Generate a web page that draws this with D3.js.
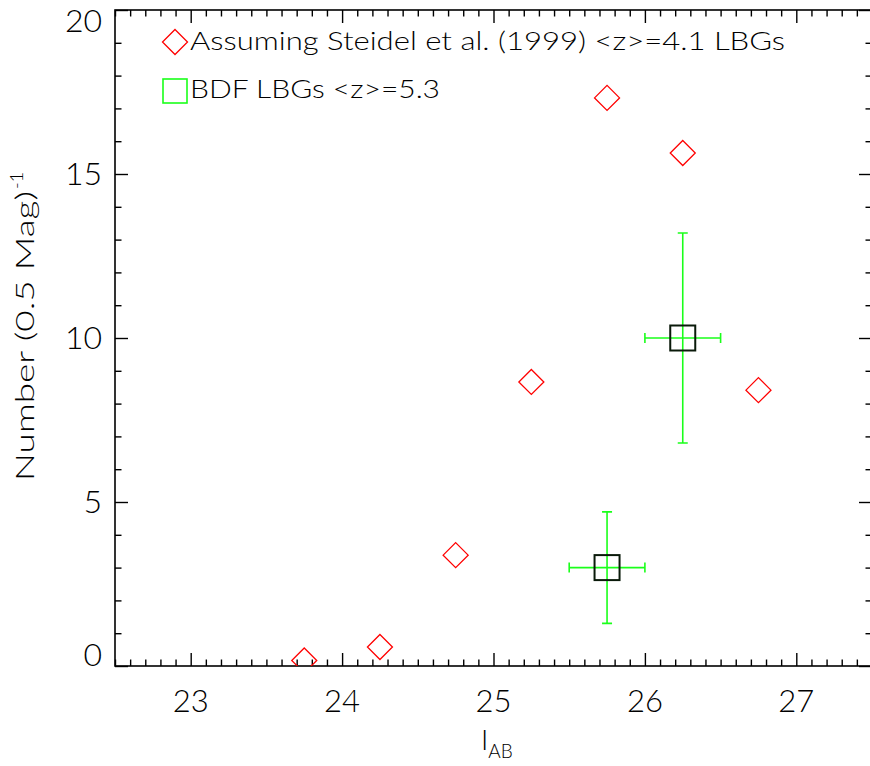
<!DOCTYPE html>
<html>
<head>
<meta charset="utf-8">
<script src="https://cdn.jsdelivr.net/npm/d3@7"></script>
<style>
  html, body { margin: 0; padding: 0; background: #fff; }
  svg { display: block; }
  text { font-family: "Lato", "DejaVu Sans", sans-serif; font-weight: 300; fill: #000; }
</style>
</head>
<body>
<svg id="chart" width="870" height="766"></svg>
<script>
// ---- data ----
const steidelMag = [23.75, 24.25, 24.75, 25.25, 25.75, 26.25, 26.75];
const steidelNum = [0.17, 0.58, 3.38, 8.66, 17.32, 15.64, 8.41];

const bdfMag = [25.75, 26.25];
const bdfNum = [3.0, 10.0];
const bdfYLow = [1.3, 6.8];
const bdfYHigh = [4.7, 13.2];
const bdfXLow = [25.5, 26.0];
const bdfXHigh = [26.0, 26.5];

const xTickLabels = [23, 24, 25, 26, 27];
const yTickLabels = [0, 5, 10, 15, 20];
const xDomain = [22.5, 27.5];
const yDomain = [0, 20];

const legendLabels = ["Assuming Steidel et al. (1999) <z>=4.1 LBGs", "BDF LBGs <z>=5.3"];

// ---- layout ----
const L = 115, R = 872, T = 10, B = 666;
const svg = d3.select("#chart");
const x = d3.scaleLinear().domain(xDomain).range([L, R]);
const y = d3.scaleLinear().domain(yDomain).range([B, T]);

const RED = "#ff0000", GREEN = "#1aff1a";
const majorLen = 13, minorLen = 6.5;

const xMinor = d3.range(22.5, 27.51, 0.1).map(v => +v.toFixed(2)).filter(v => !xTickLabels.includes(v));
const yMinor = d3.range(0, 20.01, 1).filter(v => !yTickLabels.includes(v));

function styleAxis(g) {
  g.select(".domain").remove();
  g.selectAll(".tick line").attr("stroke", "#000").attr("stroke-width", 1.4);
}

svg.append("g").attr("transform", `translate(0,${B})`)
  .call(d3.axisBottom(x).tickValues(xTickLabels).tickSize(-majorLen).tickFormat(""))
  .call(styleAxis);
svg.append("g").attr("transform", `translate(0,${B})`)
  .call(d3.axisBottom(x).tickValues(xMinor).tickSize(-minorLen).tickFormat(""))
  .call(styleAxis);
svg.append("g").attr("transform", `translate(0,${T})`)
  .call(d3.axisTop(x).tickValues(xTickLabels).tickSize(-majorLen).tickFormat(""))
  .call(styleAxis);
svg.append("g").attr("transform", `translate(0,${T})`)
  .call(d3.axisTop(x).tickValues(xMinor).tickSize(-minorLen).tickFormat(""))
  .call(styleAxis);
svg.append("g").attr("transform", `translate(${L},0)`)
  .call(d3.axisLeft(y).tickValues(yTickLabels).tickSize(-majorLen).tickFormat(""))
  .call(styleAxis);
svg.append("g").attr("transform", `translate(${L},0)`)
  .call(d3.axisLeft(y).tickValues(yMinor).tickSize(-minorLen).tickFormat(""))
  .call(styleAxis);
svg.append("g").attr("transform", `translate(${R},0)`)
  .call(d3.axisRight(y).tickValues(yTickLabels).tickSize(-majorLen).tickFormat(""))
  .call(styleAxis);
svg.append("g").attr("transform", `translate(${R},0)`)
  .call(d3.axisRight(y).tickValues(yMinor).tickSize(-minorLen).tickFormat(""))
  .call(styleAxis);

svg.append("rect").attr("x", L).attr("y", T).attr("width", R - L).attr("height", B - T)
  .attr("fill", "none").attr("stroke", "#000").attr("stroke-width", 1.6);

// tick labels
svg.append("g").selectAll("text").data(xTickLabels).join("text")
  .attr("x", d => x(d)).attr("y", 712)
  .attr("text-anchor", "middle").attr("font-size", 32)
  .attr("textLength", 36).attr("lengthAdjust", "spacingAndGlyphs")
  .text(d => d);
svg.append("g").selectAll("text").data(yTickLabels).join("text")
  .attr("x", 102)
  .attr("y", d => y(d) + (d === yDomain[1] ? 22 : d === yDomain[0] ? 0 : 11))
  .attr("text-anchor", "end").attr("font-size", 32)
  .text(d => d);

// axis titles
const xt = svg.append("text").attr("x", 481).attr("y", 750).attr("font-size", 28);
xt.append("tspan").text("I");
xt.append("tspan").attr("font-size", 19).attr("dy", 8).text("AB");

const yt = svg.append("text").attr("transform", "translate(34,481) rotate(-90)").attr("font-size", 26);
yt.append("tspan").attr("textLength", 290).attr("lengthAdjust", "spacingAndGlyphs").text("Number (0.5 Mag)");
yt.append("tspan").attr("font-size", 18).attr("dy", -11).attr("dx", 2).text("-1");

// clip
svg.append("clipPath").attr("id", "plotclip").append("rect")
  .attr("x", L).attr("y", T).attr("width", R - L).attr("height", B - T);
const plot = svg.append("g").attr("clip-path", "url(#plotclip)");

const dHalf = 12.5;
const diamond = (cx, cy) => `M${cx},${cy - dHalf}L${cx + dHalf},${cy}L${cx},${cy + dHalf}L${cx - dHalf},${cy}Z`;

plot.append("g").selectAll("path").data(steidelMag.map((m, i) => [m, steidelNum[i]])).join("path")
  .attr("d", d => diamond(x(d[0]), y(d[1])))
  .attr("fill", "none").attr("stroke", RED).attr("stroke-width", 1.3);

const bdf = bdfMag.map((m, i) => ({ m, n: bdfNum[i], yl: bdfYLow[i], yh: bdfYHigh[i], xl: bdfXLow[i], xh: bdfXHigh[i] }));
const eb = plot.append("g").attr("stroke", GREEN).attr("stroke-width", 1.6).attr("fill", "none");
const cap = 5;
eb.selectAll(".v").data(bdf).join("path").attr("class", "v")
  .attr("d", d => `M${x(d.m)},${y(d.yl)}V${y(d.yh)}M${x(d.m) - cap},${y(d.yl)}H${x(d.m) + cap}M${x(d.m) - cap},${y(d.yh)}H${x(d.m) + cap}`);
eb.selectAll(".h").data(bdf).join("path").attr("class", "h")
  .attr("d", d => `M${x(d.xl)},${y(d.n)}H${x(d.xh)}M${x(d.xl)},${y(d.n) - cap}V${y(d.n) + cap}M${x(d.xh)},${y(d.n) - cap}V${y(d.n) + cap}`);

const sHalf = 12.5;
plot.append("g").selectAll("rect").data(bdf).join("rect")
  .attr("x", d => x(d.m) - sHalf).attr("y", d => y(d.n) - sHalf)
  .attr("width", 2 * sHalf).attr("height", 2 * sHalf)
  .attr("fill", "none").attr("stroke", "#0a1a0a").attr("stroke-width", 2);

// legend
const lg = svg.append("g");
lg.append("path").attr("d", diamond(175, 42)).attr("fill", "none").attr("stroke", RED).attr("stroke-width", 1.3);
lg.append("rect").attr("x", 163).attr("y", 79).attr("width", 24).attr("height", 24)
  .attr("fill", "none").attr("stroke", GREEN).attr("stroke-width", 1.6);
lg.append("text").attr("x", 190).attr("y", 50).attr("font-size", 26)
  .attr("textLength", 595).attr("lengthAdjust", "spacingAndGlyphs").text(legendLabels[0]);
lg.append("text").attr("x", 190).attr("y", 98).attr("font-size", 26)
  .attr("textLength", 250).attr("lengthAdjust", "spacingAndGlyphs").text(legendLabels[1]);
</script>
</body>
</html>
